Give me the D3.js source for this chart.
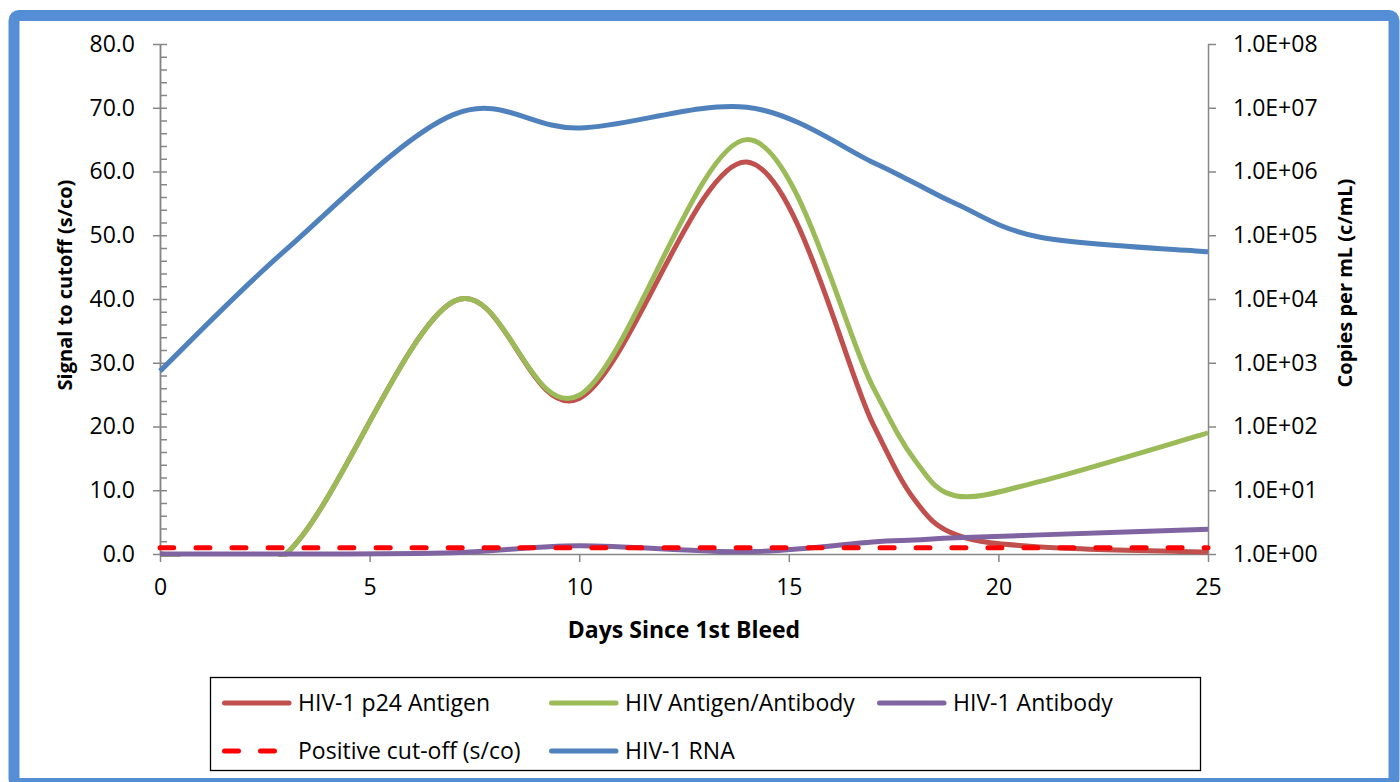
<!DOCTYPE html>
<html>
<head>
<meta charset="utf-8">
<script src="https://cdn.jsdelivr.net/npm/d3@7"></script>
<style>
html, body { margin: 0; padding: 0; background: #fff; }
svg { display: block; font-family: "Open Sans", sans-serif; }
</style>
</head>
<body>
<svg id="chart" width="1400" height="782"></svg>
<script>
// ---------- data ----------
const days = [0, 3, 7, 10, 14, 17, 18, 19, 21, 25];
const p24Antigen = [0, 0, 39.6, 24.4, 61.5, 20.5, 8.5, 3.0, 1.1, 0.3];
const agAbCombo = [0, 0, 39.6, 24.9, 65, 26.3, 14.8, 9.1, 11.4, 19];
const hiv1Antibody = [0, 0, 0.2, 1.3, 0.35, 1.9, 2.2, 2.55, 3.0, 3.9];
const positiveCutoff = [1, 1, 1, 1, 1, 1, 1, 1, 1, 1];
const hiv1RNA = [740, 5.9e4, 7.8e6, 4.8e6, 1.02e7, 1.4e6, 6.6e5, 3.1e5, 9.3e4, 5.5e4];

const seriesNames = ["HIV-1 p24 Antigen", "HIV Antigen/Antibody", "HIV-1 Antibody", "Positive cut-off (s/co)", "HIV-1 RNA"];
const seriesColors = ["#C0504D", "#9BBB59", "#8064A2", "#FF0000", "#4F81BD"];

const xTicks = [0, 5, 10, 15, 20, 25];
const leftTicks = [0, 10, 20, 30, 40, 50, 60, 70, 80];
const leftMinorTicks = [2, 4, 6, 8, 12, 14, 16, 18, 22, 24, 26, 28, 32, 34, 36, 38, 42, 44, 46, 48, 52, 54, 56, 58, 62, 64, 66, 68, 72, 74, 76, 78];
const rightTicks = [1e0, 1e1, 1e2, 1e3, 1e4, 1e5, 1e6, 1e7, 1e8];
const rightTickLabels = ["1.0E+00", "1.0E+01", "1.0E+02", "1.0E+03", "1.0E+04", "1.0E+05", "1.0E+06", "1.0E+07", "1.0E+08"];

const xTitle = "Days Since 1st Bleed";
const leftTitle = "Signal to cutoff (s/co)";
const rightTitle = "Copies per mL (c/mL)";

// ---------- spreadsheet-style smoothed line (Bezier, arms capped at half segment) ----------
function SmoothCurve(context) { this._context = context; }
SmoothCurve.prototype = {
  areaStart() { this._line = 0; },
  areaEnd() { this._line = NaN; },
  lineStart() { this._pts = []; },
  point(x, y) { this._pts.push([+x, +y]); },
  lineEnd() {
    const p = this._pts, n = p.length, c = this._context;
    if (!n) return;
    c.moveTo(p[0][0], p[0][1]);
    if (n === 1) return;
    const t = 1 / 6;
    for (let i = 0; i < n - 1; i++) {
      const p0 = p[Math.max(0, i - 1)], p1 = p[i], p2 = p[i + 1], p3 = p[Math.min(n - 1, i + 2)];
      const half = Math.hypot(p2[0] - p1[0], p2[1] - p1[1]) / 2;
      const v1 = [(p2[0] - p0[0]) * t, (p2[1] - p0[1]) * t];
      const v2 = [(p3[0] - p1[0]) * t, (p3[1] - p1[1]) * t];
      const l1 = Math.hypot(v1[0], v1[1]), l2 = Math.hypot(v2[0], v2[1]);
      const s1 = l1 > half ? half / l1 : 1;
      const s2 = l2 > half ? half / l2 : 1;
      c.bezierCurveTo(p1[0] + v1[0] * s1, p1[1] + v1[1] * s1,
                      p2[0] - v2[0] * s2, p2[1] - v2[1] * s2,
                      p2[0], p2[1]);
    }
  }
};
const curveSmooth = context => new SmoothCurve(context);

// ---------- layout ----------
const svg = d3.select("#chart");
const plot = { left: 160, right: 1208, top: 44, bottom: 554 };
const axisColor = "#868686";
const fontSize = 23;
const yTitleSize = 20;
const fontFamily = "'Open Sans', sans-serif";

const x = d3.scaleLinear().domain([0, 25]).range([plot.left, plot.right]);
const yL = d3.scaleLinear().domain([0, 80]).range([plot.bottom, plot.top]);
const yR = d3.scaleLog().domain([1, 1e8]).range([plot.bottom, plot.top]);

// outer frame
svg.append("rect")
  .attr("x", 14).attr("y", 15.5).attr("width", 1380).attr("height", 768)
  .attr("rx", 5)
  .attr("fill", "#fff").attr("stroke", "#558ED5").attr("stroke-width", 11);

function styleAxis(g) {
  g.select(".domain").attr("stroke", axisColor).attr("stroke-width", 1.5);
  g.selectAll(".tick line").attr("stroke", axisColor).attr("stroke-width", 1.5);
  g.selectAll(".tick text").attr("fill", "#000").style("font-size", fontSize + "px")
    .style("font-family", fontFamily);
}

// left minor ticks (inside)
const gLm = svg.append("g").attr("transform", `translate(${plot.left},0)`)
  .call(d3.axisLeft(yL).tickValues(leftMinorTicks).tickSize(-7).tickSizeOuter(0).tickFormat(""));
styleAxis(gLm);

// left axis (major ticks crossing)
const gL = svg.append("g").attr("transform", `translate(${plot.left},0)`)
  .call(d3.axisLeft(yL).tickValues(leftTicks).tickSize(7).tickSizeOuter(0).tickPadding(18).tickFormat(d3.format(".1f")));
gL.selectAll(".tick line").attr("x1", 7);
styleAxis(gL);

// right axis
const gR = svg.append("g").attr("transform", `translate(${plot.right},0)`)
  .call(d3.axisRight(yR).tickValues(rightTicks).tickSize(8).tickSizeOuter(0).tickPadding(17)
    .tickFormat((d, i) => rightTickLabels[i]));
styleAxis(gR);

// bottom axis
const gX = svg.append("g").attr("transform", `translate(0,${plot.bottom})`)
  .call(d3.axisBottom(x).tickValues(xTicks).tickSize(8).tickSizeOuter(0).tickPadding(17).tickFormat(d3.format("d")));
styleAxis(gX);

// axis titles
const titleStyle = size => t => t.attr("text-anchor", "middle").attr("font-weight", "bold")
  .style("font-size", size + "px").style("font-family", fontFamily);
svg.append("text")
  .attr("transform", `translate(${(plot.left + plot.right) / 2},638)`)
  .call(titleStyle(fontSize)).text(xTitle);
svg.append("text")
  .attr("transform", "translate(72,285) rotate(-90)")
  .call(titleStyle(yTitleSize)).text(leftTitle);
svg.append("text")
  .attr("transform", "translate(1352,283) rotate(-90)")
  .call(titleStyle(yTitleSize)).text(rightTitle);

// clip
svg.append("clipPath").attr("id", "plotclip").append("rect")
  .attr("x", plot.left - 5).attr("y", plot.top - 5)
  .attr("width", plot.right - plot.left + 10).attr("height", plot.bottom - plot.top + 8);

const lineL = d3.line().x(d => x(d[0])).y(d => yL(d[1])).curve(curveSmooth);
const lineR = d3.line().x(d => x(d[0])).y(d => yR(d[1])).curve(curveSmooth);

const zip = vals => days.map((d, i) => [d, vals[i]]);
const gLines = svg.append("g").attr("clip-path", "url(#plotclip)");

const seriesDefs = [
  { vals: p24Antigen, line: lineL, color: seriesColors[0], dash: null },
  { vals: agAbCombo, line: lineL, color: seriesColors[1], dash: null },
  { vals: hiv1Antibody, line: lineL, color: seriesColors[2], dash: null },
  { vals: positiveCutoff, line: lineL, color: seriesColors[3], dash: "14,22" },
  { vals: hiv1RNA, line: lineR, color: seriesColors[4], dash: null }
];

seriesDefs.forEach(s => {
  gLines.append("path")
    .datum(zip(s.vals))
    .attr("d", s.line)
    .attr("fill", "none")
    .attr("stroke", s.color)
    .attr("stroke-width", 5)
    .attr("stroke-linecap", s.dash ? "round" : "butt")
    .attr("stroke-linejoin", "round")
    .attr("stroke-dasharray", s.dash);
});

// legend
const legend = svg.append("g");
legend.append("rect")
  .attr("x", 210.5).attr("y", 677.5).attr("width", 990).attr("height", 93)
  .attr("fill", "#fff").attr("stroke", "#000").attr("stroke-width", 1.3);

const legendPos = [
  { lx: 222, tx: 298, y: 703 },
  { lx: 549, tx: 625, y: 703 },
  { lx: 877, tx: 953, y: 703 },
  { lx: 222, tx: 298, y: 751 },
  { lx: 549, tx: 625, y: 751 }
];

seriesDefs.forEach((s, i) => {
  const p = legendPos[i];
  legend.append("line")
    .attr("x1", p.lx + 2.5).attr("x2", p.lx + 67).attr("y1", p.y).attr("y2", p.y)
    .attr("stroke", s.color).attr("stroke-width", 5)
    .attr("stroke-linecap", "round")
    .attr("stroke-dasharray", s.dash);
  legend.append("text")
    .attr("x", p.tx).attr("y", p.y).attr("dy", "0.35em")
    .style("font-size", fontSize + "px").style("font-family", fontFamily)
    .text(seriesNames[i]);
});
</script>
</body>
</html>
